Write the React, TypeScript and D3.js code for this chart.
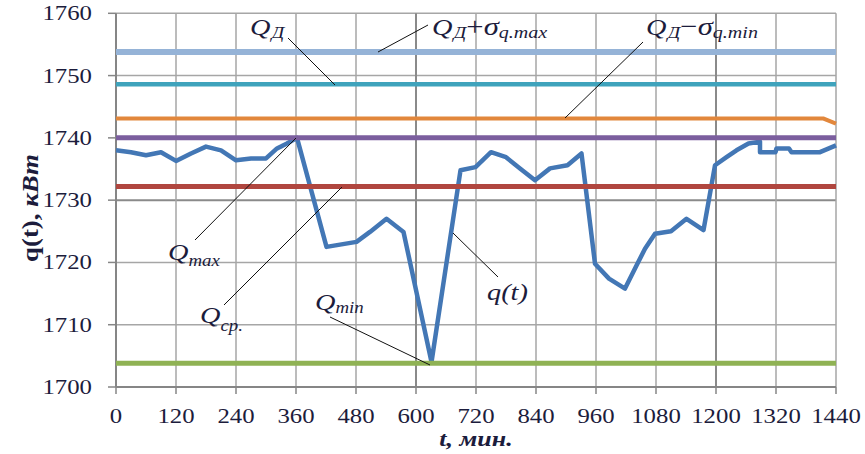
import React from "react";
import * as d3 from "d3";

const times = [0, 30, 60, 90, 120, 150, 180, 210, 240, 270, 300, 322, 342, 362, 421, 481, 508, 541, 575, 631, 689, 719, 750, 780, 808, 838, 868, 903, 931, 958, 986, 1018, 1041, 1058, 1078, 1110, 1141, 1175, 1198, 1221, 1241, 1265, 1288, 1288, 1319, 1321, 1346, 1351, 1408, 1440];
const qValues = [1738.0, 1737.7, 1737.2, 1737.7, 1736.3, 1737.5, 1738.6, 1738.0, 1736.4, 1736.7, 1736.7, 1738.3, 1739.1, 1740.0, 1722.5, 1723.3, 1724.9, 1727.0, 1724.9, 1704.0, 1734.8, 1735.3, 1737.7, 1736.9, 1735.1, 1733.2, 1735.1, 1735.6, 1737.5, 1719.8, 1717.4, 1715.8, 1719.5, 1722.2, 1724.6, 1725.0, 1727.0, 1725.2, 1735.6, 1736.9, 1738.0, 1739.1, 1739.4, 1737.7, 1737.7, 1738.3, 1738.3, 1737.7, 1737.7, 1738.8];

const orangeTimes = [0, 1415, 1440];
const orangeValues = [1743.1, 1743.1, 1742.3];

const levelNames = ["QdPlus", "Qd", "Qmax", "Qavg", "Qmin"];
const levelValues = [1753.8, 1748.6, 1740.0, 1732.2, 1703.8];
const levelColors = ["#95B3D7", "#3FA3BC", "#7B5E9E", "#B0463F", "#8FB254"];
const levelWidths = [6, 4.5, 5, 5, 5];

const xTicks = [0, 120, 240, 360, 480, 600, 720, 840, 960, 1080, 1200, 1320, 1440];
const yTicks = [1700, 1710, 1720, 1730, 1740, 1750, 1760];

const x = d3.scaleLinear().domain([0, 1440]).range([116, 836]);
const y = d3.scaleLinear().domain([1700, 1760]).range([387, 13.3]);

const FONT = "'Liberation Serif', 'Times New Roman', serif";
const TXT = "#1c1c3c";
const SX = 1.18;

function T({ x0, y0, anchor = "start", children, size = 22, weight = "normal", style = "normal" }: any) {
  return (
    <g transform={`translate(${x0},${y0}) scale(${SX},1)`}>
      <text x={0} y={0} textAnchor={anchor} fontFamily={FONT} fontSize={size} fontWeight={weight} fontStyle={style} fill={TXT}>
        {children}
      </text>
    </g>
  );
}

function Leader({ x1, y1, x2, y2 }: any) {
  return <line x1={x1} y1={y1} x2={x2} y2={y2} stroke="#111" strokeWidth={1} />;
}

export default function App() {
  const line = d3.line<number>().x((_, i) => x(times[i])).y((d) => y(d));
  const oLine = d3.line<number>().x((_, i) => x(orangeTimes[i])).y((d) => y(d));
  return (
    <svg width={865} height={454} style={{ position: "absolute", left: 0, top: 0, background: "#fff" }}>
      {yTicks.map((v) => (
        <line key={"h" + v} x1={x(0)} x2={x(1440)} y1={y(v)} y2={y(v)} stroke={v === 1730 ? "#8a8a8a" : "#a6a6a6"} strokeWidth={v === 1730 ? 2 : 1.5} />
      ))}
      {xTicks.map((t) => (
        <line key={"v" + t} x1={x(t)} x2={x(t)} y1={y(1760)} y2={y(1700)} stroke={t === 600 || t === 1200 ? "#8a8a8a" : "#a6a6a6"} strokeWidth={t === 600 || t === 1200 ? 2 : 1.5} />
      ))}
      <line x1={x(0)} x2={x(0)} y1={y(1760)} y2={y(1700)} stroke="#868686" strokeWidth={2} />
      <line x1={x(0)} x2={x(1440)} y1={y(1700)} y2={y(1700)} stroke="#868686" strokeWidth={2} />
      {yTicks.map((v) => (
        <line key={"yt" + v} x1={x(0) - 8} x2={x(0)} y1={y(v)} y2={y(v)} stroke="#868686" strokeWidth={1.5} />
      ))}
      {xTicks.map((t) => (
        <line key={"xt" + t} x1={x(t)} x2={x(t)} y1={y(1700)} y2={y(1700) + 7} stroke="#868686" strokeWidth={1.5} />
      ))}
      {yTicks.map((v) => (
        <T key={"yl" + v} x0={92} y0={y(v) + 7} anchor="end" size={21}>{String(v)}</T>
      ))}
      {xTicks.map((t) => (
        <T key={"xl" + t} x0={x(t)} y0={423} anchor="middle" size={21}>{String(t)}</T>
      ))}
      <path d={line(qValues) || ""} fill="none" stroke="#4377B5" strokeWidth={4.5} strokeLinejoin="round" />
      {levelValues.map((v, i) => (
        <line key={levelNames[i]} x1={x(0)} x2={x(1440)} y1={y(v)} y2={y(v)} stroke={levelColors[i]} strokeWidth={levelWidths[i]} />
      ))}
      <path d={oLine(orangeValues) || ""} fill="none" stroke="#E2873C" strokeWidth={4} />
      <Leader x1={288} y1={38} x2={335} y2={85} />
      <Leader x1={378} y1={52} x2={428} y2={25} />
      <Leader x1={565} y1={118} x2={643} y2={42} />
      <Leader x1={195} y1={240} x2={296} y2={138} />
      <Leader x1={224} y1={305} x2={342} y2={187} />
      <Leader x1={330} y1={317} x2={430} y2={365} />
      <Leader x1={453} y1={233} x2={498} y2={277} />
      <g transform={`translate(250,35) scale(${SX},1)`}>
        <text fontFamily={FONT} fontStyle="italic" fill={TXT} fontSize={24}>
          Q<tspan fontSize={17} dy={3} dx={1}>Д</tspan>
        </text>
      </g>
      <g transform={`translate(432,35) scale(${SX},1)`}>
        <text fontFamily={FONT} fontStyle="italic" fill={TXT} fontSize={24}>
          Q<tspan fontSize={17} dy={3} dx={1}>Д</tspan>
          <tspan dy={-3} fontStyle="normal" fontSize={26}>+</tspan>
          <tspan fontSize={26}>σ</tspan>
          <tspan fontSize={17} dy={3}>q.max</tspan>
        </text>
      </g>
      <g transform={`translate(646,35) scale(${SX},1)`}>
        <text fontFamily={FONT} fontStyle="italic" fill={TXT} fontSize={24}>
          Q<tspan fontSize={17} dy={3} dx={1}>Д</tspan>
          <tspan dy={-3} fontStyle="normal" fontSize={26}>−</tspan>
          <tspan fontSize={26}>σ</tspan>
          <tspan fontSize={17} dy={3}>q.min</tspan>
        </text>
      </g>
      <g transform={`translate(168,260) scale(${SX},1)`}>
        <text fontFamily={FONT} fontStyle="italic" fill={TXT} fontSize={24}>
          Q<tspan fontSize={16} dy={6}>max</tspan>
        </text>
      </g>
      <g transform={`translate(200,323) scale(${SX},1)`}>
        <text fontFamily={FONT} fontStyle="italic" fill={TXT} fontSize={24}>
          Q<tspan fontSize={16} dy={8}>ср.</tspan>
        </text>
      </g>
      <g transform={`translate(315,310) scale(${SX},1)`}>
        <text fontFamily={FONT} fontStyle="italic" fill={TXT} fontSize={24}>
          Q<tspan fontSize={16} dy={3}>min</tspan>
        </text>
      </g>
      <T x0={487} y0={300} size={24} style="italic">q(t)</T>
      <g transform={`translate(476,446) scale(${SX},1)`}>
        <text textAnchor="middle" fontFamily={FONT} fontStyle="italic" fontWeight="bold" fill={TXT} fontSize={22}>
          t, мин.
        </text>
      </g>
      <g transform={`translate(38,208) rotate(-90) scale(1.12,1)`}>
        <text textAnchor="middle" fontFamily={FONT} fontWeight="bold" fill={TXT} fontSize={24}>
          q(t), <tspan fontStyle="italic">кВт</tspan>
        </text>
      </g>
    </svg>
  );
}
